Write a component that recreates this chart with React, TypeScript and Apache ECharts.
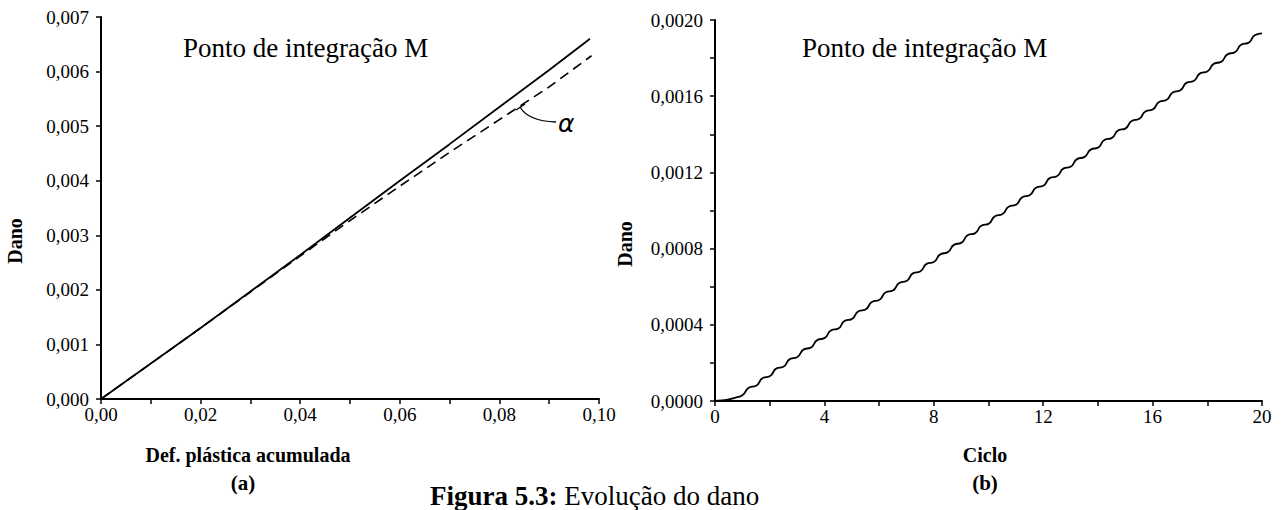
import React, { useEffect, useRef } from "react";
import * as echarts from "echarts";

// Left panel (a): damage vs accumulated plastic strain
const strainSolid = [0, 0.01, 0.02, 0.03, 0.04, 0.05, 0.06, 0.07, 0.08, 0.09, 0.0982];
const damageSolid = [0, 0.00065, 0.0013, 0.00197, 0.00264, 0.00332, 0.004, 0.00467, 0.00535, 0.00603, 0.0066];
const strainDashed = [0, 0.01, 0.02, 0.03, 0.04, 0.05, 0.06, 0.07, 0.08, 0.09, 0.0985];
const damageDashed = [0, 0.00065, 0.0013, 0.00196, 0.00262, 0.00327, 0.0039, 0.00452, 0.00512, 0.00572, 0.00629];

// Right panel (b): damage vs cycle
const cycles = [
  0, 0.25, 0.5, 0.75, 1, 1.25, 1.5, 1.75, 2, 2.25, 2.5, 2.75, 3, 3.25, 3.5, 3.75,
  4, 4.25, 4.5, 4.75, 5, 5.25, 5.5, 5.75, 6, 6.25, 6.5, 6.75, 7, 7.25, 7.5, 7.75,
  8, 8.25, 8.5, 8.75, 9, 9.25, 9.5, 9.75, 10, 10.25, 10.5, 10.75, 11, 11.25, 11.5, 11.75,
  12, 12.25, 12.5, 12.75, 13, 13.25, 13.5, 13.75, 14, 14.25, 14.5, 14.75, 15, 15.25, 15.5, 15.75,
  16, 16.25, 16.5, 16.75, 17, 17.25, 17.5, 17.75, 18, 18.25, 18.5, 18.75, 19, 19.25, 19.5, 19.75, 20,
];
const damageCycle = [
  0, 0.000003, 0.000008, 0.000018, 0.00003, 0.000071, 0.00008, 0.000121, 0.00013, 0.000171, 0.00018, 0.000221, 0.00023, 0.000271, 0.00028, 0.000321,
  0.00033, 0.000371, 0.00038, 0.000421, 0.00043, 0.000471, 0.00048, 0.000521, 0.00053, 0.000571, 0.00058, 0.000621, 0.00063, 0.000671, 0.00068, 0.000721,
  0.00073, 0.000771, 0.00078, 0.000821, 0.00083, 0.000871, 0.00088, 0.000921, 0.00093, 0.000971, 0.00098, 0.001021, 0.00103, 0.001071, 0.00108, 0.001121,
  0.00113, 0.001171, 0.00118, 0.001221, 0.00123, 0.001271, 0.00128, 0.001321, 0.00133, 0.001371, 0.00138, 0.001421, 0.00143, 0.001471, 0.00148, 0.001521,
  0.00153, 0.001571, 0.00158, 0.001621, 0.00163, 0.001671, 0.00168, 0.001721, 0.00173, 0.001771, 0.00178, 0.001821, 0.00183, 0.001871, 0.00188, 0.001921, 0.00193,
];

const FONT = "'Liberation Serif', 'Times New Roman', serif";

export default function App() {
  const ref = useRef<HTMLDivElement>(null);
  useEffect(() => {
    if (!ref.current) return;
    const chart = echarts.init(ref.current, undefined, { renderer: "svg" });
    const axisCommon = {
      axisLine: { show: true, onZero: false, lineStyle: { color: "#000", width: 2 } },
      axisTick: { show: true, inside: false, length: 5, lineStyle: { color: "#000", width: 1.5 } },
      splitLine: { show: false },
      axisLabel: { color: "#000", fontFamily: FONT, fontSize: 19 },
    };
    const minor = { show: true, splitNumber: 2, length: 5, lineStyle: { color: "#000", width: 1.5 } };
    chart.setOption({
      animation: false,
      backgroundColor: "#fff",
      textStyle: { fontFamily: FONT, color: "#000" },
      grid: [
        { left: 101, top: 17, width: 498, height: 382 },
        { left: 715, top: 20, width: 547, height: 381 },
      ],
      xAxis: [
        {
          ...axisCommon, gridIndex: 0, type: "value", min: 0, max: 0.1, interval: 0.02,
          minorTick: minor,
          axisLabel: { ...axisCommon.axisLabel, margin: 6, formatter: (v: number) => v.toFixed(2).replace(".", ",") },
        },
        {
          ...axisCommon, gridIndex: 1, type: "value", min: 0, max: 20, interval: 4,
          minorTick: minor,
          axisLabel: { ...axisCommon.axisLabel, margin: 6, formatter: (v: number) => String(v) },
        },
      ],
      yAxis: [
        {
          ...axisCommon, gridIndex: 0, type: "value", min: 0, max: 0.007, interval: 0.001,
          axisLabel: { ...axisCommon.axisLabel, margin: 12, formatter: (v: number) => v.toFixed(3).replace(".", ",") },
        },
        {
          ...axisCommon, gridIndex: 1, type: "value", min: 0, max: 0.002, interval: 0.0004,
          minorTick: minor,
          axisLabel: { ...axisCommon.axisLabel, margin: 12, formatter: (v: number) => v.toFixed(4).replace(".", ",") },
        },
      ],
      series: [
        {
          type: "line", xAxisIndex: 0, yAxisIndex: 0, symbol: "none",
          data: strainSolid.map((x, i) => [x, damageSolid[i]]),
          lineStyle: { color: "#000", width: 1.8 },
        },
        {
          type: "line", xAxisIndex: 0, yAxisIndex: 0, symbol: "none",
          data: strainDashed.map((x, i) => [x, damageDashed[i]]),
          lineStyle: { color: "#000", width: 1.6, type: [10, 6] },
        },
        {
          type: "line", xAxisIndex: 1, yAxisIndex: 1, symbol: "none", smooth: 0.6,
          data: cycles.map((x, i) => [x, damageCycle[i]]),
          lineStyle: { color: "#000", width: 1.8 },
        },
      ],
      graphic: [
        { type: "text", left: 183, top: 34, style: { text: "Ponto de integração M", font: `27px ${FONT}`, fill: "#000" } },
        { type: "text", left: 802, top: 34, style: { text: "Ponto de integração M", font: `27px ${FONT}`, fill: "#000" } },
        { type: "text", x: 15, y: 241, rotation: Math.PI / 2, style: { text: "Dano", font: `bold 20px ${FONT}`, fill: "#000", align: "center", verticalAlign: "middle" } },
        { type: "text", x: 625, y: 244, rotation: Math.PI / 2, style: { text: "Dano", font: `bold 20px ${FONT}`, fill: "#000", align: "center", verticalAlign: "middle" } },
        { type: "text", x: 248, y: 455, style: { text: "Def. plástica acumulada", font: `bold 20px ${FONT}`, fill: "#000", align: "center", verticalAlign: "middle" } },
        { type: "text", x: 243, y: 483, style: { text: "(a)", font: `bold 21px ${FONT}`, fill: "#000", align: "center", verticalAlign: "middle" } },
        { type: "text", x: 985, y: 455, style: { text: "Ciclo", font: `bold 20px ${FONT}`, fill: "#000", align: "center", verticalAlign: "middle" } },
        { type: "text", x: 985, y: 483, style: { text: "(b)", font: `bold 21px ${FONT}`, fill: "#000", align: "center", verticalAlign: "middle" } },
        {
          type: "text", x: 430, y: 509,
          style: {
            text: "{b|Figura 5.3:} Evolução do dano",
            font: `27px ${FONT}`, fill: "#000", verticalAlign: "bottom",
            rich: { b: { fontWeight: "bold", fontSize: 27, fontFamily: FONT } },
          },
        },
        { type: "line", shape: { x1: 516, y1: 110, x2: 525, y2: 104 }, style: { stroke: "#000", lineWidth: 1.5 } },
        { type: "bezierCurve", shape: { x1: 520, y1: 107, cpx1: 528, cpy1: 121, x2: 556, y2: 122 }, style: { stroke: "#000", lineWidth: 1.3, fill: "none" } },
        { type: "text", x: 558, y: 111, style: { text: "α", font: `italic 25px 'DejaVu Sans', sans-serif`, fill: "#000" } },
      ],
    });
    return () => chart.dispose();
  }, []);
  return <div ref={ref} style={{ position: "fixed", left: 0, top: 0, width: 1286, height: 510 }} />;
}
